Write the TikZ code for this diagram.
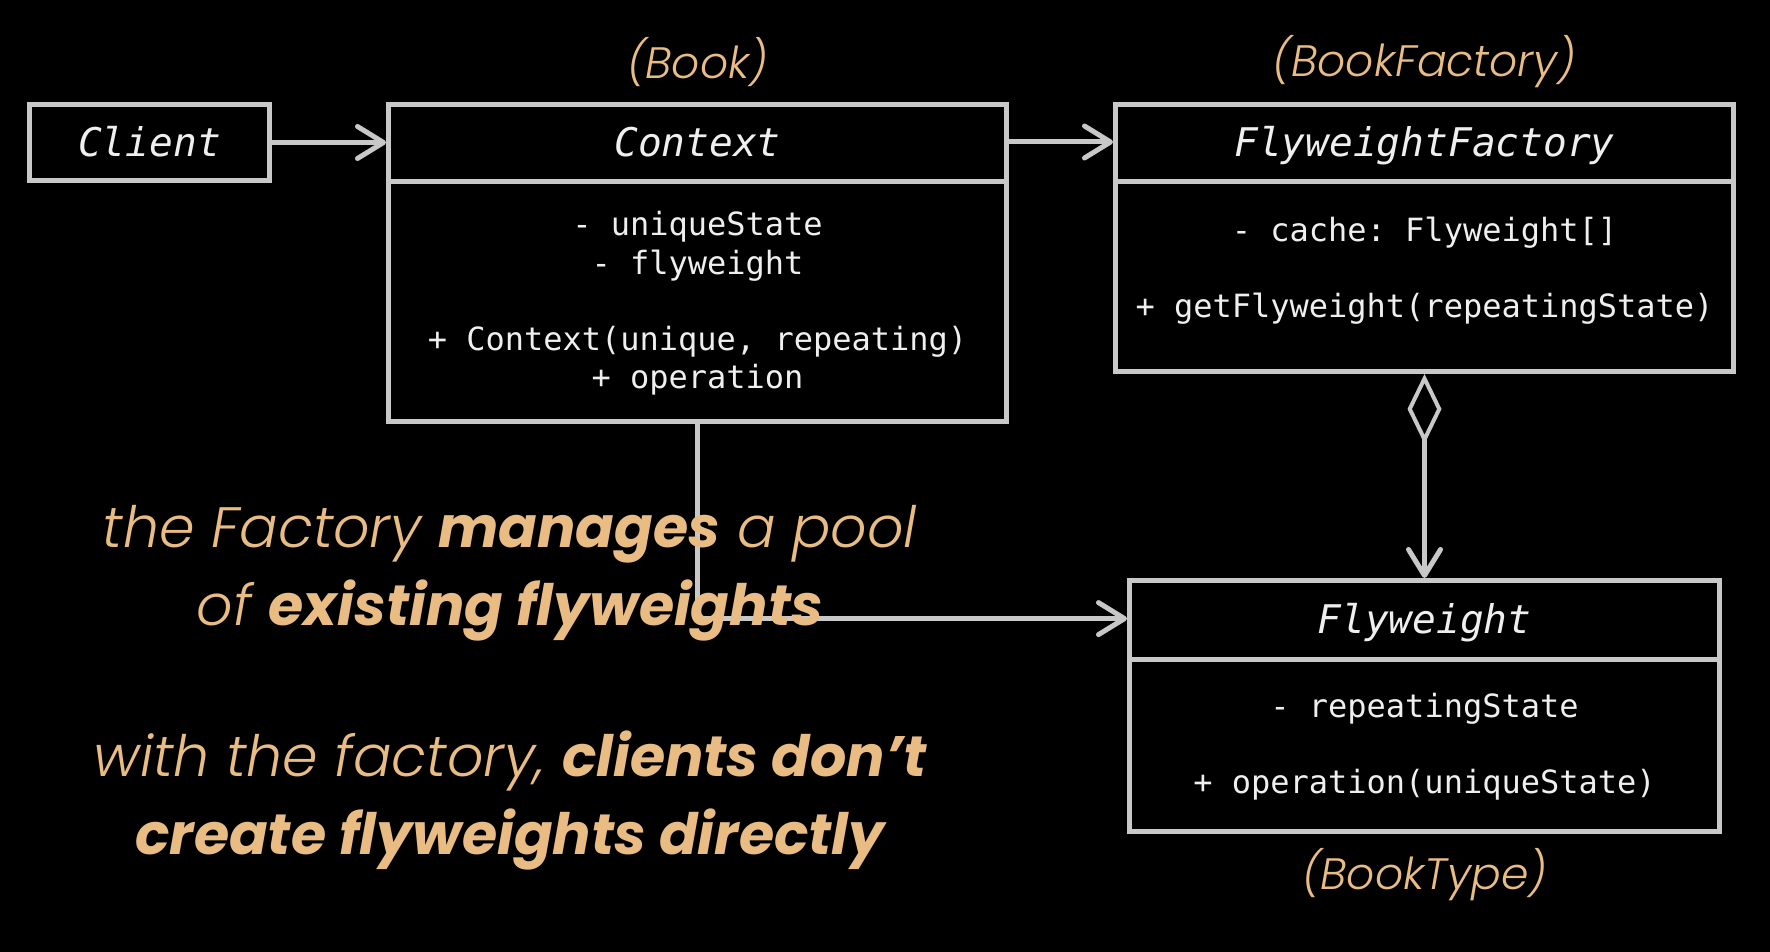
\documentclass[tikz,border=0pt]{standalone}
\usepackage{fontspec}
\usetikzlibrary{arrows.meta}
\setmonofont{DejaVu Sans Mono}
\newfontfamily\capfont{Poppins}[UprightFont=* Light, ItalicFont=* Light Italic, BoldFont=* Bold, BoldItalicFont=* Bold Italic]
\definecolor{boxgray}{HTML}{C8C8C8}
\definecolor{txtwhite}{HTML}{EFEFEF}
\definecolor{tan}{HTML}{E9BC84}
\tikzset{
  box/.style={draw=boxgray, line width=5pt, fill=black, rectangle, inner sep=0pt},
  divline/.style={draw=boxgray, line width=5pt},
  conn/.style={draw=boxgray, line width=5pt},
  barb/.tip={Straight Barb[length=26pt,width=32pt,line cap=round,line join=round]},
  aggr/.tip={Diamond[open,length=70pt,width=34pt,line width=4pt]},
  ttl/.style={text=txtwhite, font=\ttfamily\itshape\fontsize{39.5}{44}\selectfont, inner sep=0pt, text height=28.8pt, text depth=0pt},
  body/.style={text=txtwhite, font=\ttfamily\fontsize{32}{38.3}\selectfont, align=center, inner sep=0pt},
  captxt/.style={text=tan, font=\capfont\itshape\fontsize{44}{50}\selectfont, inner sep=0pt},
  note/.style={text=tan, font=\capfont\itshape\fontsize{57}{78}\selectfont, align=center, inner sep=0pt},
}
\begin{document}
\begin{tikzpicture}[x=1pt,y=-1pt]
\fill[black] (0,0) rectangle (1770,952);
\useasboundingbox (0,0) rectangle (1770,952);

% boxes
\node[box, minimum width=240pt, minimum height=76pt] (cl) at (149.5,142.5) {};
\node[box, minimum width=618pt, minimum height=317pt] (ctx) at (697.5,263) {};
\node[box, minimum width=618pt, minimum height=267pt] (fac) at (1424.5,238) {};
\node[box, minimum width=590pt, minimum height=251pt] (fw) at (1424.5,706) {};

% dividers
\coordinate (ctxdiv) at (697.5,182);
\coordinate (facdiv) at (1424.5,182);
\coordinate (fwdiv) at (1424.5,659);
\draw[divline] (ctx.west |- ctxdiv) -- (ctx.east |- ctxdiv);
\draw[divline] (fac.west |- facdiv) -- (fac.east |- facdiv);
\draw[divline] (fw.west |- fwdiv) -- (fw.east |- fwdiv);

% titles
\node[ttl] (clT) at (cl.center) {Client};
\node[ttl] (ctxT) at (697.5,142) {Context};
\node[ttl] (facT) at (1424.5,142) {FlyweightFactory};
\node[ttl] (fwT) at (1424.5,618.6) {Flyweight};

% bodies
\node[body] (ctxB) at (697.5,303.5) {- uniqueState\\- flyweight\\[38pt]+ Context(unique, repeating)\\+ operation};
\node[body] (facB) at (1424.5,271) {- cache: Flyweight[]\\[38pt]+ getFlyweight(repeatingState)};
\node[body] (fwB) at (1424.5,747) {- repeatingState\\[38pt]+ operation(uniqueState)};

% captions
\node[captxt] (capBook) at (697.5,62) {(Book)};
\node[captxt] (capFac) at (1424.5,62) {(BookFactory)};
\node[captxt] (capType) at (1424.5,875) {(BookType)};

% connectors
\draw[conn, -barb] (cl.east) -- (cl.east -| ctx.west);
\draw[conn, -barb] (ctx.east |- ctxT) -- (fac.west |- ctxT);
\draw[conn, aggr-barb] (fac.south) -- (fw.north);
\draw[conn, -barb] (ctx.south) |- (fw.west |- fwT);

% notes
\node[note] (n1) at (510,573) {the Factory \textbf{manages} a pool\\of \textbf{existing flyweights}};
\node[note] (n2) at (510,801) {with the factory, \textbf{clients don’t}\\\textbf{create flyweights directly}};
\end{tikzpicture}
\end{document}
